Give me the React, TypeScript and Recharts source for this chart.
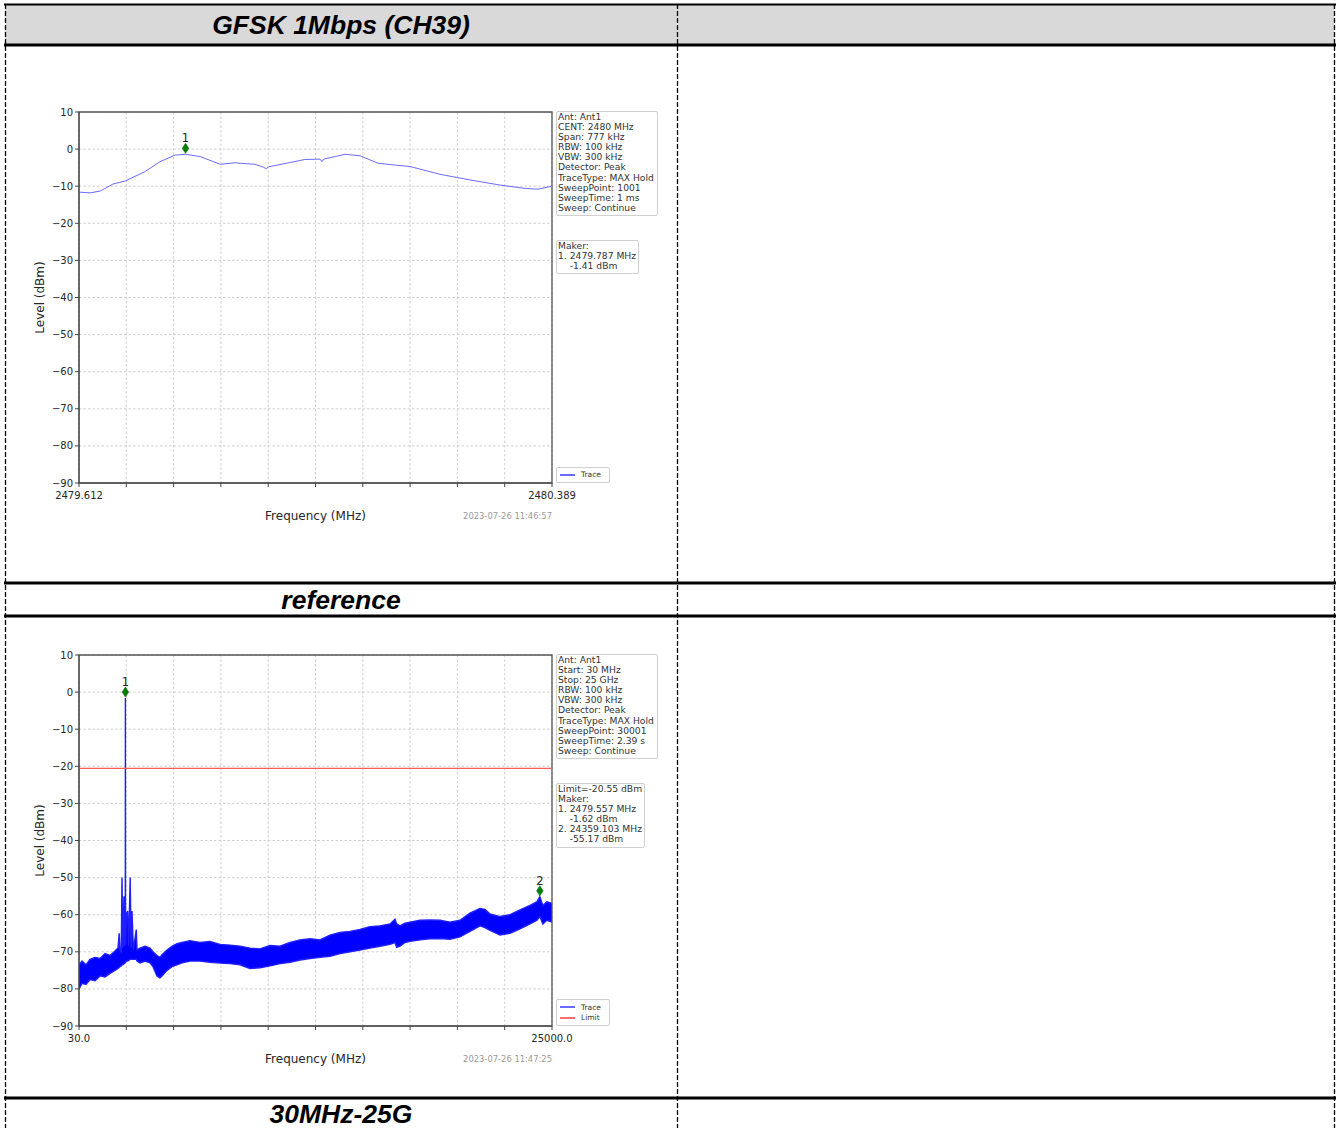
import { ComposedChart, Line, Area, Scatter, XAxis, YAxis, CartesianGrid, ReferenceLine, ReferenceArea, Label } from 'recharts';

// ---- CH39 sweep (777 kHz span) ----
const ch39Freq = [2479.612, 2479.630, 2479.647, 2479.668, 2479.688, 2479.720, 2479.745, 2479.770, 2479.787, 2479.811, 2479.844, 2479.868, 2479.901, 2479.915, 2479.920, 2479.923, 2479.959, 2479.983, 2480.008, 2480.011, 2480.014, 2480.033, 2480.049, 2480.074, 2480.103, 2480.131, 2480.156, 2480.205, 2480.254, 2480.304, 2480.345, 2480.366, 2480.389];
const ch39Level = [-11.6, -11.8, -11.3, -9.4, -8.6, -6.1, -3.4, -1.6, -1.41, -2.0, -4.1, -3.7, -4.1, -4.9, -5.3, -4.8, -3.6, -2.8, -2.7, -3.4, -2.7, -2.0, -1.4, -1.8, -3.8, -4.3, -4.7, -6.8, -8.3, -9.7, -10.6, -10.8, -10.0];
const ch39MarkerFreq = [2479.787];
const ch39MarkerLevel = [-1.41];
const ch39XLabels = ['2479.612', '2480.389'];
const ch39Info = ['Ant: Ant1', 'CENT: 2480 MHz', 'Span: 777 kHz', 'RBW: 100 kHz', 'VBW: 300 kHz', 'Detector: Peak', 'TraceType: MAX Hold', 'SweepPoint: 1001', 'SweepTime: 1 ms', 'Sweep: Continue'];
const ch39Maker = ['Maker:', '1. 2479.787 MHz', '    -1.41 dBm'];

// ---- 30 MHz - 25 GHz sweep (min / max envelope of the trace) ----
const spanFreq = [30, 188, 400, 611, 875, 1139, 1403, 1667, 1930, 2089, 2152, 2190, 2260, 2300, 2340, 2405, 2440, 2458, 2475, 2479.557, 2485, 2520, 2600, 2650, 2733, 2780, 2828, 2900, 3055, 3092, 3250, 3514, 3778, 3936, 4148, 4300, 4412, 4676, 4939, 5203, 5467, 5890, 6418, 6945, 7473, 8001, 8529, 9057, 9585, 10113, 10641, 11169, 11697, 12225, 12752, 13280, 13808, 14336, 14864, 15392, 15920, 16448, 16712, 16800, 16976, 17240, 17504, 18032, 18559, 19087, 19615, 20143, 20671, 21199, 21463, 21727, 22255, 22783, 23311, 23839, 24209, 24359, 24517, 24727, 25000];
const spanLow = [-80, -78.5, -78.8, -77.5, -77.8, -76.5, -76.8, -75.8, -75, -74.5, -74.2, -74, -73.8, -73.5, -73.5, -73.2, -73, -73, -72.8, -72.8, -72.8, -72.5, -72.5, -72.3, -72, -72, -72, -72, -72, -72.5, -73, -72.5, -73, -74, -76.5, -77, -76.5, -75, -74, -73.5, -73, -72.5, -72.5, -72.8, -73, -73.2, -73.5, -74.5, -74.3, -73.8, -73.2, -72.8, -72.2, -71.8, -71.5, -71.2, -70.5, -70, -69.5, -69, -68.5, -68, -67.5, -68.8, -68.5, -67.5, -67.2, -66.8, -66.5, -66.4, -66.6, -66, -64.5, -63, -63.5, -64.2, -65.5, -65, -63.8, -62.5, -61.5, -60.5, -62.5, -61.5, -62];
const spanHigh = [-73.5, -72.5, -73.5, -72, -71.5, -71.8, -70.5, -71, -69.8, -69, -65, -69.5, -70, -50, -69, -55, -68.5, -59, -68, -1.62, -68, -60, -59, -68.5, -50, -69, -59, -69.5, -64, -69.5, -69, -68.5, -69, -70, -71, -71.5, -70.8, -69.5, -68.5, -67.8, -67.5, -67, -67.5, -67.2, -68, -68.2, -68.5, -69, -69.2, -68.3, -68.5, -67.5, -66.8, -66.5, -66.8, -65.5, -64.8, -64.5, -64, -63.2, -63, -62.5, -61.2, -62.5, -63, -62.3, -62, -61.5, -61.4, -61.5, -62, -61.5, -59.6, -58.3, -58.6, -59.8, -60.5, -60, -58.7, -57.5, -56.5, -55.17, -57.5, -56.5, -57];
const spanMarkerFreq = [2479.557, 24359.103];
const spanMarkerLevel = [-1.62, -55.17];
const spanLimit = -20.55;
const spanXLabels = ['30.0', '25000.0'];
const spanInfo = ['Ant: Ant1', 'Start: 30 MHz', 'Stop: 25 GHz', 'RBW: 100 kHz', 'VBW: 300 kHz', 'Detector: Peak', 'TraceType: MAX Hold', 'SweepPoint: 30001', 'SweepTime: 2.39 s', 'Sweep: Continue'];
const spanMaker = ['Limit=-20.55 dBm', 'Maker:', '1. 2479.557 MHz', '    -1.62 dBm', '2. 24359.103 MHz', '    -55.17 dBm'];

const levelTicks = [-90, -80, -70, -60, -50, -40, -30, -20, -10, 0, 10];

const ch39Data = ch39Freq.map((f, i) => ({ f, level: ch39Level[i] }));
const spanData = spanFreq.map((f, i) => ({ f, band: [spanLow[i], spanHigh[i]] }));
const ch39Markers = ch39MarkerFreq.map((f, i) => ({ f, level: ch39MarkerLevel[i], n: i + 1 }));
const spanMarkers = spanMarkerFreq.map((f, i) => ({ f, level: spanMarkerLevel[i], n: i + 1 }));

const FONT = '"DejaVu Sans", sans-serif';
const CHART_W = 640;
const CHART_H = 510;

const MarkerShape = (props: any) => {
  const { cx, cy, payload } = props;
  const c = cy - 6;
  return (
    <g>
      <path d={`M${cx},${c - 5} L${cx + 3.2},${c} L${cx},${c + 5} L${cx - 3.2},${c} Z`} fill="#008000" stroke="#006400" strokeWidth={0.6} />
      <text x={cx} y={c - 6} textAnchor="middle" fontSize={11.5} fontFamily={FONT} fill="#222">{payload.n}</text>
    </g>
  );
};

function Box({ left, top, lines, width }: any) {
  return (
    <div style={{ position: 'absolute', left, top, width, border: '1px solid #d0d0d0', borderRadius: 2, background: '#fff', padding: '0px 2px 2px 1px', fontFamily: FONT, fontSize: 9.2, lineHeight: '10.1px', color: '#333', whiteSpace: 'pre' }}>
      {lines.map((l: string, i: number) => <div key={i}>{l}</div>)}
    </div>
  );
}

function LegendBox({ left, top, items }: any) {
  return (
    <div style={{ position: 'absolute', left, top, width: 46, border: '1px solid #d0d0d0', borderRadius: 2, background: '#fff', padding: '2px 3px', fontFamily: FONT, fontSize: 7.5, color: '#333' }}>
      {items.map((it: any) => (
        <div key={it.name} style={{ display: 'flex', alignItems: 'center', height: 10.5 }}>
          <div style={{ width: 15, height: 2, background: it.color, marginRight: 6, flexShrink: 0 }} />
          {it.name}
        </div>
      ))}
    </div>
  );
}

function Spectrum({ top, xMin, xMax, xLabels, children, info, maker, makerTop, legend, stamp }: any) {
  const xTicks = Array.from({ length: 11 }, (_, i) => xMin + ((xMax - xMin) * i) / 10);
  const tickStyle = { fill: '#262626', fontSize: 10, fontFamily: FONT };
  return (
    <>
      <div style={{ position: 'absolute', left: 20, top }}>
        <ComposedChart width={CHART_W} height={CHART_H} margin={{ top: 62, right: 108, bottom: 47, left: 19 }}>
          <CartesianGrid stroke="#c4c4c4" strokeDasharray="2.5 2" strokeWidth={0.8} />
          <XAxis
            type="number"
            dataKey="f"
            domain={[xMin, xMax]}
            ticks={xTicks}
            interval={0}
            allowDataOverflow
            height={30}
            tickSize={4}
            tickMargin={5}
            tick={tickStyle}
            stroke="#444"
            tickFormatter={(_: any, i: number) => (i === 0 ? xLabels[0] : i === 10 ? xLabels[1] : '')}
          >
            <Label
              content={(p: any) => (
                <text x={p.viewBox.x + p.viewBox.width / 2} y={p.viewBox.y + 37} textAnchor="middle" fontSize={12} fontFamily={FONT} fill="#262626">Frequency (MHz)</text>
              )}
            />
          </XAxis>
          <YAxis
            type="number"
            domain={[-90, 10]}
            ticks={levelTicks}
            interval={0}
            allowDataOverflow
            width={40}
            tickSize={4}
            tick={tickStyle}
            stroke="#444"
            tickFormatter={(v: number) => String(v).replace('-', '\u2212')}
          >
            <Label
              content={(p: any) => {
                const x = p.viewBox.x + 1;
                const y = p.viewBox.y + p.viewBox.height / 2;
                return <text x={x} y={y} transform={`rotate(-90 ${x} ${y})`} textAnchor="middle" dominantBaseline="central" fontSize={12} fontFamily={FONT} fill="#262626">Level (dBm)</text>;
              }}
            />
          </YAxis>
          {children}
          <ReferenceArea x1={xMin} x2={xMax} y1={-90} y2={10} fill="none" stroke="#555" strokeWidth={1.3} ifOverflow="visible" />
        </ComposedChart>
      </div>
      <Box left={556} top={top + 61} lines={info} width={97} />
      <Box left={556} top={makerTop} lines={maker} />
      <LegendBox left={556} top={top + 433 - legend.length * 10.5 - 6} items={legend} />
      <div style={{ position: 'absolute', left: 452, top: top + 461, width: 100, textAlign: 'right', fontFamily: FONT, fontSize: 8.4, color: '#9a9a9a' }}>{stamp}</div>
    </>
  );
}

const cellText: any = { position: 'absolute', left: 5, width: 672, lineHeight: '30px', textAlign: 'center', fontFamily: '"Liberation Sans", Arial, sans-serif', fontWeight: 'bold', fontStyle: 'italic', fontSize: 26.5, color: '#000' };

export default function App() {
  return (
    <div style={{ position: 'absolute', left: 0, top: 0, width: 1338, height: 1128, background: '#fff', overflow: 'hidden' }}>
      <svg width={1338} height={1128} style={{ position: 'absolute', left: 0, top: 0 }}>
        <rect x={5} y={4} width={1329} height={41} fill="#d9d9d9" />
        <line x1={4} x2={1336} y1={4.5} y2={4.5} stroke="#000" strokeWidth={2} />
        <line x1={4} x2={1336} y1={45} y2={45} stroke="#000" strokeWidth={3} />
        <line x1={4} x2={1336} y1={583} y2={583} stroke="#000" strokeWidth={3} />
        <line x1={4} x2={1336} y1={616} y2={616} stroke="#000" strokeWidth={3} />
        <line x1={4} x2={1336} y1={1098} y2={1098} stroke="#000" strokeWidth={3} />
        {[5.5, 677.5, 1334.5].map((x) => (
          <line key={x} x1={x} x2={x} y1={4} y2={1128} stroke="#000" strokeWidth={1.3} strokeDasharray="5 2" />
        ))}
      </svg>
      <div style={{ ...cellText, top: 10 }}>GFSK 1Mbps (CH39)</div>
      <div style={{ ...cellText, top: 585 }}>reference</div>
      <div style={{ ...cellText, top: 1099 }}>30MHz-25G</div>

      <Spectrum
        top={50}
        xMin={2479.612}
        xMax={2480.389}
        xLabels={ch39XLabels}
        info={ch39Info}
        maker={ch39Maker}
        makerTop={240}
        legend={[{ name: 'Trace', color: '#6b6bff' }]}
        stamp="2023-07-26 11:46:57"
      >
        <Line data={ch39Data} dataKey="level" type="linear" stroke="#6b6bff" strokeWidth={1} dot={false} isAnimationActive={false} />
        <Scatter data={ch39Markers} dataKey="level" shape={<MarkerShape />} isAnimationActive={false} />
      </Spectrum>

      <Spectrum
        top={593}
        xMin={30}
        xMax={25000}
        xLabels={spanXLabels}
        info={spanInfo}
        maker={spanMaker}
        makerTop={783}
        legend={[{ name: 'Trace', color: '#6b6bff' }, { name: 'Limit', color: '#ff6b6b' }]}
        stamp="2023-07-26 11:47:25"
      >
        <Area data={spanData} dataKey="band" type="linear" fill="#0000ff" fillOpacity={1} stroke="#1f1fff" strokeWidth={1.4} dot={false} activeDot={false} isAnimationActive={false} />
        <ReferenceLine y={spanLimit} stroke="#ff5a5a" strokeWidth={1.2} />
        <Scatter data={spanMarkers} dataKey="level" shape={<MarkerShape />} isAnimationActive={false} />
      </Spectrum>
    </div>
  );
}
